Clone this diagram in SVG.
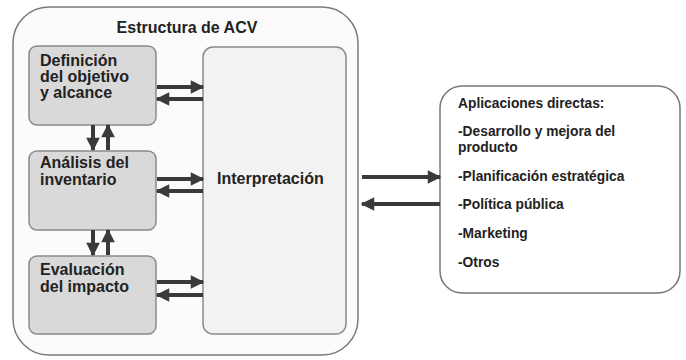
<svg xmlns="http://www.w3.org/2000/svg" width="686" height="360" viewBox="0 0 686 360">
<style>
.t{font-family:"Liberation Sans",Arial,sans-serif;font-weight:bold;fill:#222}
.big{font-size:16px}
.sm{font-size:13.8px}
.box{fill:#d9d9d9;stroke:#8a8a8a;stroke-width:1.5}
.ar{stroke:#3a3a3a;stroke-width:4;fill:none;marker-end:url(#ah)}
</style>
<defs>
<marker id="ah" viewBox="0 0 10 10" refX="9" refY="5" markerWidth="3.6" markerHeight="3.4" orient="auto" markerUnits="strokeWidth">
<path d="M0,0 L10,5 L0,10 z" fill="#3a3a3a"/>
</marker>
</defs>
<rect width="686" height="360" fill="#ffffff"/>
<g id="estructura">
<rect x="13" y="7" width="345" height="348" rx="36" fill="#fbfbfb" stroke="#7a7a7a" stroke-width="1.5"/>
<text class="t big" x="187" y="33" text-anchor="middle">Estructura de ACV</text>
</g>
<g id="definicion">
<rect class="box" x="29" y="46" width="127" height="79" rx="8"/>
<text class="t big" x="40" y="66">Definición</text>
<text class="t big" x="40" y="82">del objetivo</text>
<text class="t big" x="40" y="98">y alcance</text>
</g>
<g id="analisis">
<rect class="box" x="29" y="151" width="127" height="79" rx="8"/>
<text class="t big" x="40" y="168">Análisis del</text>
<text class="t big" x="40" y="185">inventario</text>
</g>
<g id="evaluacion">
<rect class="box" x="29" y="256" width="127" height="78" rx="8"/>
<text class="t big" x="40" y="275">Evaluación</text>
<text class="t big" x="40" y="292">del impacto</text>
</g>
<g id="interpretacion">
<rect x="203" y="47" width="143" height="287" rx="10" fill="#f2f2f2" stroke="#8a8a8a" stroke-width="1.5"/>
<text class="t big" x="217" y="184">Interpretación</text>
</g>
<g id="aplicaciones">
<rect x="440" y="86" width="240" height="207" rx="22" fill="#ffffff" stroke="#777" stroke-width="1.5"/>
<text class="t sm" x="458" y="108">Aplicaciones directas:</text>
<text class="t sm" x="458" y="136">-Desarrollo y mejora del</text>
<text class="t sm" x="458" y="152">producto</text>
<text class="t sm" x="458" y="181">-Planificación estratégica</text>
<text class="t sm" x="458" y="209">-Política pública</text>
<text class="t sm" x="458" y="238">-Marketing</text>
<text class="t sm" x="458" y="267">-Otros</text>
</g>
<g id="connectors">
<line class="ar" x1="157" y1="87" x2="203" y2="87"/>
<line class="ar" x1="203" y1="99" x2="157" y2="99"/>
<line class="ar" x1="157" y1="179" x2="203" y2="179"/>
<line class="ar" x1="203" y1="191" x2="157" y2="191"/>
<line class="ar" x1="157" y1="282" x2="203" y2="282"/>
<line class="ar" x1="203" y1="295" x2="157" y2="295"/>
<line class="ar" x1="93" y1="125" x2="93" y2="150"/>
<line class="ar" x1="108" y1="150" x2="108" y2="125"/>
<line class="ar" x1="93" y1="230" x2="93" y2="255"/>
<line class="ar" x1="108" y1="255" x2="108" y2="230"/>
<line class="ar" x1="362" y1="177" x2="440" y2="177"/>
<line class="ar" x1="440" y1="204" x2="362" y2="204"/>
</g>
</svg>
